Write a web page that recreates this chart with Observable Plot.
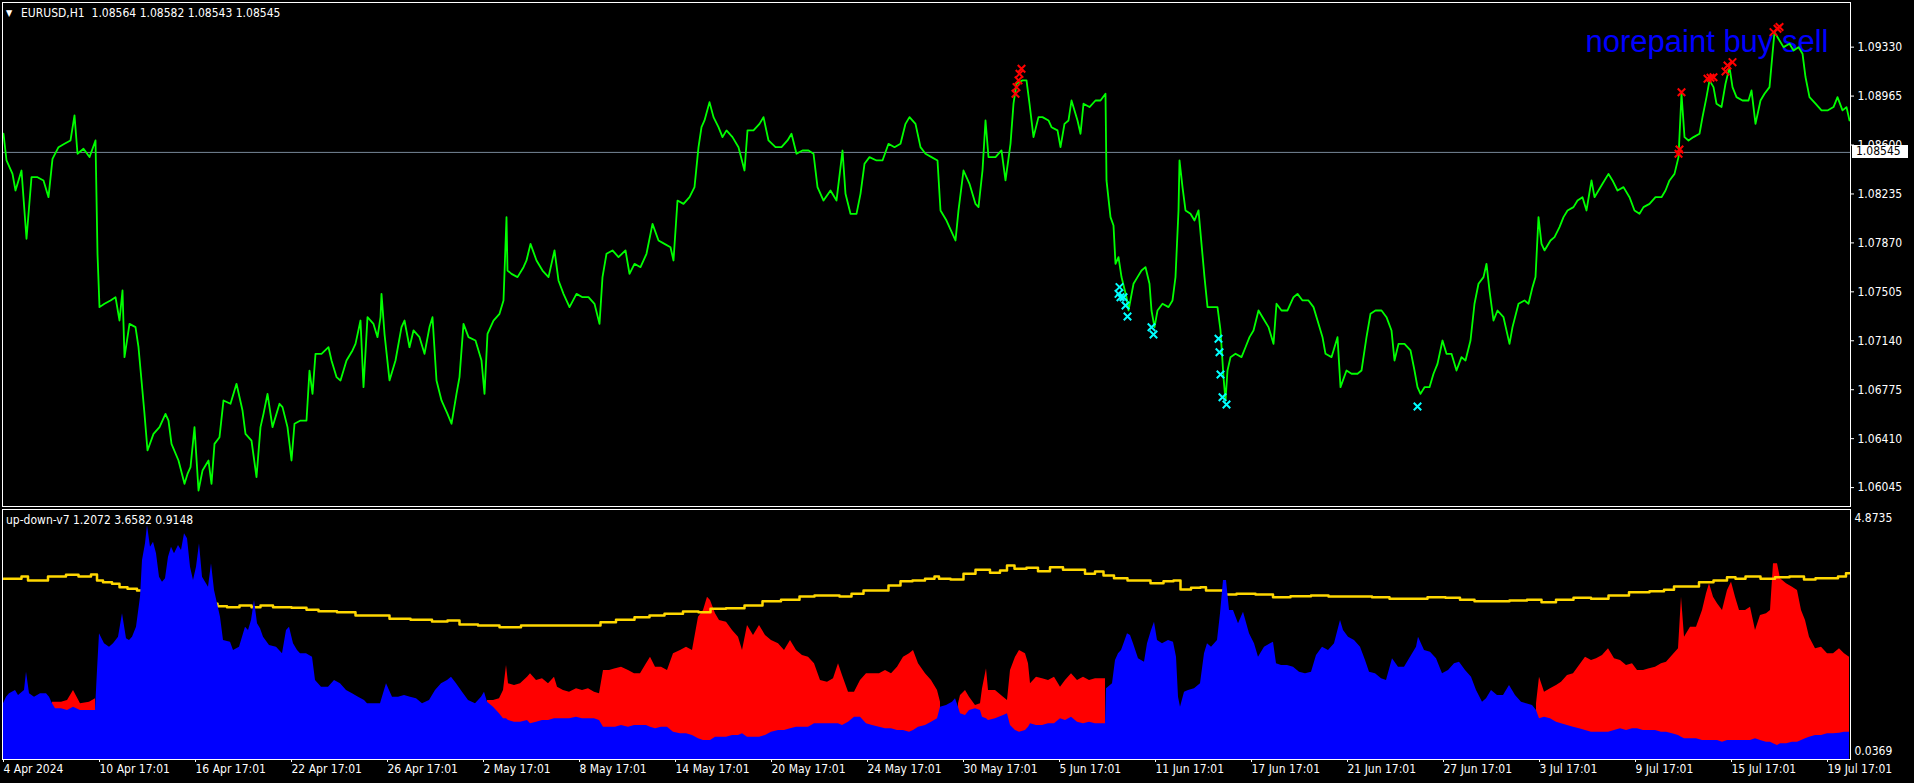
<!DOCTYPE html>
<html><head><meta charset="utf-8">
<script src="https://cdn.jsdelivr.net/npm/d3@7"></script>
<script src="https://cdn.jsdelivr.net/npm/@observablehq/plot@0.6"></script>
<style>
html,body{margin:0;padding:0;background:#000;}
#wrap{position:relative;width:1914px;height:783px;background:#000;overflow:hidden;}
#wrap svg{display:block;}
.lbl{position:absolute;color:#fff;font-family:"DejaVu Sans Condensed","DejaVu Sans",sans-serif;font-size:12px;white-space:pre;line-height:14px;}
#tag{position:absolute;background:#fff;color:#000;font-family:"DejaVu Sans Condensed","DejaVu Sans",sans-serif;font-size:12px;line-height:13px;height:13px;width:56px;padding-left:4px;box-sizing:border-box;}
</style></head><body><div id="wrap"></div>
<script>
// ---------- data ----------
const symbolTitle = "EURUSD,H1  1.08564 1.08582 1.08543 1.08545";
const indicatorTitle = "up-down-v7 1.2072 3.6582 0.9148";
const overlayText = "norepaint buy sell";
const lastPrice = 1.08545;

const priceTicks = [1.06045,1.06410,1.06775,1.07140,1.07505,1.07870,1.08235,1.08600,1.08965,1.09330];
const indTicks = [4.8735, 0.0369];

const tickHours = [0,96,192,288,384,480,576,672,768,864,960,1056,1152,1248,1344,1440,1536,1632,1728,1824];
const tickLabels = ["4 Apr 2024","10 Apr 17:01","16 Apr 17:01","22 Apr 17:01","26 Apr 17:01","2 May 17:01","8 May 17:01","14 May 17:01","20 May 17:01","24 May 17:01","30 May 17:01","5 Jun 17:01","11 Jun 17:01","17 Jun 17:01","21 Jun 17:01","27 Jun 17:01","3 Jul 17:01","9 Jul 17:01","15 Jul 17:01","19 Jul 17:01"];

const priceBar = [0,3,9,12,18,23,28,34,40,45,
 49,55,61,67,71,74,80,86,92,94,
 96,101,107,112,116,119,121,126,132,135,
 138,141,144,150,156,162,165,168,175,181,
 184,187,191,195,199,205,208,211,216,220,
 227,233,239,242,248,253,257,260,264,269,
 276,279,284,288,291,297,303,306,309,312,
 318,325,328,333,337,343,349,352,357,360,
 364,370,374,377,378,381,386,392,398,401,
 406,410,416,421,426,429,433,438,444,448,
 453,456,460,465,472,478,481,484,490,496,
 500,503,504,508,514,520,523,527,533,539,
 545,551,555,560,566,573,579,585,591,596,
 599,603,609,615,622,626,631,637,643,649,
 655,661,667,670,674,680,686,691,695,698,
 701,706,710,715,719,723,729,735,741,744,
 750,756,760,765,772,778,784,788,793,799,
 805,810,814,820,827,833,839,842,847,853,
 857,861,866,873,879,885,891,897,902,906,
 912,917,922,928,934,937,
 943,949,952,955,960,966,972,975,979,982,
 985,992,998,1002,1007,1010,1013,1019,1023,1026,
 1030,1035,1039,1045,1048,1054,1057,1061,1065,1068,
 1074,1077,1080,1086,1092,1097,1102,1103,1107,1110,
 1112,1115,1118,1123,1125,1130,1134,1138,1142,1146,
 1148,1151,1154,1159,1165,1169,1172,1175,1176,1179,
 1182,1187,1191,1195,1198,1201,1204,1208,1214,1217,
 1220,1222,1224,1227,1232,1238,1242,1246,1250,1255,
 1261,1265,1270,1273,1278,1284,1290,1294,1299,1305,
 1310,1315,1319,1322,1328,1334,1337,1343,1348,1354,
 1358,1363,1367,1372,1378,1383,1388,1391,1395,1401,
 1407,1411,1414,1417,1421,1426,1430,1434,1439,1443,
 1448,1453,1458,1462,1467,1471,1475,1480,1483,1486,
 1490,1494,1500,1506,1509,1515,1521,1525,1529,1532,
 1535,1538,1541,1547,1551,1556,1560,1564,1570,1574,
 1579,1583,1588,1591,1595,1599,1605,1609,1614,1620,
 1626,1631,1636,1640,1646,1652,1658,1662,1666,1671,
 1675,1678,1681,1685,1690,1696,1699,1703,1706,1710,
 1713,1718,1722,1726,1729,1733,1739,1745,1748,1752,
 1757,1761,1766,1769,1771,1776,1780,1786,1790,1795,
 1799,1802,1806,1812,1818,1824,1830,1834,1839,1843,
 1846];
const priceClose = [1.08684,1.08485,1.08385,1.08261,1.08410,1.07901,1.08360,1.08360,1.08336,1.08211,
 1.08497,1.08584,1.08609,1.08634,1.08821,1.08535,1.08572,1.08510,1.08634,1.07789,
 1.07391,1.07416,1.07441,1.07465,1.07291,1.07515,1.07018,1.07266,1.07242,1.07092,
 1.06844,1.06595,1.06322,1.06446,1.06496,1.06595,1.06545,1.06371,1.06247,1.06073,
 1.06147,1.06197,1.06496,1.06023,1.06172,1.06247,1.06073,1.06371,1.06421,1.06695,
 1.06670,1.06819,1.06620,1.06446,1.06396,1.06123,1.06496,1.06595,1.06744,1.06496,
 1.06670,1.06645,1.06496,1.06247,1.06521,1.06545,1.06545,1.06918,1.06744,1.07043,
 1.07043,1.07092,1.06993,1.06869,1.06844,1.06993,1.07068,1.07117,1.07291,1.06794,
 1.07316,1.07266,1.07167,1.07316,1.07490,1.07192,1.06844,1.06993,1.07242,1.07291,
 1.07092,1.07217,1.07167,1.07043,1.07242,1.07316,1.06844,1.06695,1.06595,1.06521,
 1.06744,1.06869,1.07266,1.07167,1.07142,1.06993,1.06744,1.07192,1.07291,1.07341,
 1.07441,1.08062,1.07664,1.07639,1.07615,1.07689,1.07739,1.07863,1.07739,1.07664,
 1.07615,1.07814,1.07590,1.07490,1.07391,1.07490,1.07465,1.07465,1.07416,1.07266,
 1.07615,1.07789,1.07814,1.07764,1.07814,1.07639,1.07714,1.07689,1.07789,1.08012,
 1.07888,1.07863,1.07838,1.07739,1.08186,1.08161,1.08211,1.08286,1.08584,1.08734,
 1.08783,1.08920,1.08808,1.08734,1.08659,1.08709,1.08659,1.08584,1.08410,1.08709,
 1.08709,1.08758,1.08808,1.08634,1.08584,1.08584,1.08634,1.08684,1.08535,1.08559,
 1.08559,1.08535,1.08286,1.08186,1.08261,1.08186,1.08559,1.08236,1.08087,1.08087,
 1.08236,1.08460,1.08510,1.08485,1.08485,1.08609,1.08584,1.08609,1.08758,1.08808,
 1.08758,1.08584,1.08535,1.08510,1.08485,1.08112,
 1.08037,1.07938,1.07888,1.08112,1.08410,1.08311,1.08161,1.08137,1.08410,1.08783,
 1.08510,1.08510,1.08560,1.08336,1.08609,1.08908,1.09057,1.09082,1.09082,1.08908,
 1.08659,1.08808,1.08808,1.08783,1.08733,1.08709,1.08584,1.08758,1.08783,1.08932,
 1.08783,1.08684,1.08908,1.08883,1.08932,1.08932,1.08982,1.08336,1.08062,1.08000,
 1.07714,1.07764,1.07615,1.07465,1.07366,1.07565,1.07615,1.07664,1.07689,1.07565,
 1.07366,1.07242,1.07366,1.07416,1.07391,1.07441,1.07615,1.08112,1.08485,1.08286,
 1.08112,1.08087,1.08037,1.08112,1.07863,1.07615,1.07391,1.07391,1.07391,1.07217,
 1.06869,1.06695,1.06918,1.07018,1.07043,1.07018,1.07092,1.07167,1.07217,1.07366,
 1.07291,1.07242,1.07117,1.07416,1.07366,1.07366,1.07465,1.07490,1.07441,1.07441,
 1.07391,1.07267,1.07167,1.07043,1.07018,1.07167,1.06794,1.06918,1.06894,1.06894,
 1.06918,1.07167,1.07341,1.07366,1.07366,1.07316,1.07217,1.06993,1.07117,1.07117,
 1.07068,1.06918,1.06794,1.06744,1.06794,1.06794,1.06894,1.06968,1.07142,1.07043,
 1.07043,1.06918,1.07018,1.06993,1.07142,1.07416,1.07565,1.07615,1.07714,1.07515,
 1.07291,1.07366,1.07316,1.07117,1.07242,1.07416,1.07441,1.07416,1.07540,1.07615,
 1.08062,1.07863,1.07814,1.07888,1.07913,1.07988,1.08062,1.08112,1.08137,1.08186,
 1.08211,1.08112,1.08336,1.08211,1.08261,1.08311,1.08385,1.08336,1.08261,1.08286,
 1.08211,1.08112,1.08087,1.08137,1.08161,1.08211,1.08211,1.08261,1.08336,1.08385,
 1.08510,1.08982,1.08659,1.08634,1.08659,1.08684,1.08808,1.08957,1.09082,1.09032,
 1.08908,1.08883,1.09057,1.09181,1.09032,1.08957,1.08932,1.08932,1.09007,1.08758,
 1.08932,1.08982,1.09032,1.09281,1.09442,1.09380,1.09330,1.09355,1.09305,1.09330,
 1.09281,1.09107,1.08957,1.08908,1.08858,1.08858,1.08883,1.08957,1.08858,1.08883,
 1.08783];

const sellBar = [1012,1013,1015,1016,1018,1675,1676,1678,1704,1707,1710,1722,1724,1729,1770,1774,1776];
const sellPrice = [1.08982,1.09032,1.09082,1.09131,1.09169,1.08535,1.08567,1.08994,1.09094,1.09102,1.09106,1.09149,1.09193,1.09218,1.09442,1.09467,1.09480];
const buyBar = [1116,1115,1117,1120,1122,1124,1148,1150,1215,1216,1217,1219,1223,1414];
const buyPrice = [1.07540,1.07490,1.07465,1.07465,1.07403,1.07321,1.07241,1.07187,1.07155,1.07055,1.06888,1.06719,1.06665,1.06650];

const histBar = [0,3,6,12,15,21,23,26,31,37,
 43,46,49,52,58,64,70,77,86,92,
 94,96,101,106,110,115,119,123,126,129,
 133,137,139,142,144,147,150,153,156,159,
 162,165,168,171,175,178,181,184,187,190,
 193,196,199,205,208,211,214,217,220,227,
 230,236,242,245,248,251,254,257,260,266,
 273,279,283,286,290,294,297,303,309,312,
 318,325,331,337,343,349,355,361,364,370,
 377,383,389,395,401,407,413,419,426,432,
 438,444,448,453,459,465,472,478,481,484,
 490,496,500,503,505,511,517,524,527,533,
 539,545,551,554,560,566,573,579,585,591,
 596,600,606,612,618,625,631,637,643,647,
 652,658,664,670,677,683,689,695,700,704,
 707,712,716,723,729,735,739,744,750,756,
 762,768,775,781,787,793,799,805,811,817,
 824,830,835,839,845,851,857,863,869,876,
 882,888,894,900,906,910,915,922,928,934,
 937,943,949,952,955,957,962,966,972,977,
 979,983,985,992,1000,1004,1007,1012,1016,1022,
 1025,1027,1033,1039,1045,1051,1057,1062,1068,1074,
 1080,1086,1092,1097,1102,1103,1109,1112,1115,1118,
 1121,1124,1127,1130,1135,1141,1144,1148,1151,1154,
 1159,1165,1170,1173,1175,1177,1181,1185,1191,1197,
 1201,1204,1208,1214,1217,1220,1223,1226,1230,1235,
 1240,1246,1251,1255,1261,1267,1270,1273,1278,1284,
 1290,1296,1302,1308,1313,1319,1325,1331,1337,1340,
 1345,1351,1357,1362,1366,1372,1378,1383,1389,1395,
 1401,1407,1413,1415,1421,1427,1433,1439,1445,1451,
 1456,1462,1468,1473,1479,1483,1488,1494,1500,1506,
 1512,1518,1523,1529,1533,1536,1541,1547,1553,1558,
 1564,1570,1576,1582,1588,1593,1599,1605,1611,1617,
 1623,1629,1634,1640,1646,1652,1658,1663,1669,1675,
 1678,1681,1687,1693,1699,1703,1706,1710,1714,1719,
 1724,1728,1732,1736,1742,1747,1752,1757,1763,1767,
 1770,1774,1777,1783,1789,1794,1798,1802,1806,1812,
 1818,1824,1830,1836,1841,1846];
const histUp = [1.019,1.157,1.226,1.295,1.192,1.295,1.675,1.226,1.157,1.226,
 1.226,1.157,1.019,0.915,0.915,0.881,0.950,0.881,0.881,0.881,
 1.709,2.469,2.262,2.193,2.262,2.400,2.884,2.366,2.331,2.400,
 2.607,3.229,3.989,4.334,4.714,4.265,4.369,4.127,3.643,3.540,
 3.609,4.058,4.265,4.127,4.300,4.196,4.541,4.438,3.851,3.574,
 3.851,4.334,3.643,3.436,3.920,3.367,3.091,2.815,2.331,2.297,
 2.124,2.193,2.607,2.538,2.746,3.160,2.676,2.573,2.400,2.228,
 2.193,2.055,2.538,2.607,2.262,2.124,2.055,2.055,1.986,1.502,
 1.364,1.364,1.502,1.433,1.295,1.226,1.157,1.088,1.019,1.019,
 1.019,1.433,1.157,1.157,1.192,1.157,1.122,1.019,1.088,1.295,
 1.433,1.502,1.571,1.433,1.261,1.088,1.019,1.157,1.261,1.053,
 0.950,0.812,0.708,0.708,0.673,0.639,0.639,0.673,0.604,0.639,
 0.673,0.673,0.708,0.708,0.708,0.708,0.742,0.708,0.708,0.708,
 0.673,0.535,0.535,0.535,0.570,0.535,0.570,0.570,0.570,0.535,
 0.501,0.535,0.535,0.432,0.397,0.397,0.363,0.294,0.259,0.259,
 0.259,0.328,0.328,0.328,0.363,0.363,0.397,0.328,0.328,0.328,
 0.363,0.432,0.466,0.466,0.501,0.535,0.535,0.535,0.604,0.604,
 0.604,0.604,0.604,0.570,0.639,0.742,0.742,0.604,0.570,0.535,
 0.501,0.501,0.466,0.466,0.432,0.466,0.535,0.570,0.639,0.708,
 0.950,0.984,1.053,1.122,0.950,0.812,0.777,0.881,0.915,0.881,
 0.742,0.708,0.673,0.708,0.777,0.812,0.570,0.466,0.432,0.466,
 0.535,0.604,0.570,0.570,0.604,0.604,0.708,0.673,0.742,0.639,
 0.604,0.639,0.604,0.604,0.604,1.329,1.433,1.917,2.055,2.124,
 2.297,2.469,2.435,2.262,1.951,1.882,2.262,2.538,2.711,2.331,
 2.262,2.331,2.297,1.986,1.157,0.950,1.261,1.295,1.329,1.433,
 2.055,2.262,2.193,2.331,2.884,3.574,3.574,2.953,2.953,2.676,
 2.918,2.469,2.262,1.986,2.193,2.262,2.297,1.848,1.813,1.813,
 1.778,1.675,1.640,1.675,2.020,2.193,2.124,2.262,2.746,2.538,
 2.400,2.331,2.193,1.917,1.675,1.640,1.537,1.502,1.951,1.778,
 1.778,1.986,2.193,2.400,2.124,2.089,1.951,1.640,1.709,1.848,
 1.882,1.709,1.571,1.295,1.053,1.122,1.295,1.192,1.192,1.398,
 1.192,1.053,1.019,0.984,0.881,0.708,0.742,0.708,0.639,0.604,
 0.570,0.535,0.501,0.466,0.432,0.432,0.432,0.432,0.466,0.501,
 0.466,0.501,0.501,0.466,0.466,0.466,0.432,0.432,0.397,0.363,
 0.328,0.294,0.294,0.294,0.259,0.259,0.259,0.259,0.259,0.224,
 0.259,0.259,0.259,0.259,0.259,0.259,0.294,0.259,0.224,0.224,
 0.190,0.155,0.190,0.190,0.224,0.224,0.259,0.294,0.328,0.363,
 0.363,0.397,0.397,0.411,0.432,0.432];
const n = null;
const histDown = [n,n,n,n,n,n,n,n,n,n,
 n,n,1.053,1.053,1.053,1.088,1.295,1.019,1.053,1.122,
 n,n,n,n,n,n,n,n,n,n,
 n,n,n,n,n,n,n,n,n,n,
 n,n,n,n,n,n,n,n,n,n,
 n,n,n,n,n,n,n,n,n,n,
 n,n,n,n,n,n,n,n,n,n,
 n,n,n,n,n,n,n,n,n,n,
 n,n,n,n,n,n,n,n,n,n,
 n,n,n,n,n,n,n,n,n,n,
 n,n,n,n,n,n,n,n,n,1.088,
 1.088,1.122,1.295,1.813,1.433,1.398,1.433,1.571,1.640,1.502,
 1.537,1.433,1.571,1.364,1.295,1.261,1.329,1.295,1.329,1.261,
 1.226,1.709,1.709,1.744,1.778,1.709,1.640,1.640,1.848,1.986,
 1.778,1.778,1.709,2.055,2.124,2.193,2.124,2.815,2.953,3.229,
 3.160,2.884,2.746,2.711,2.538,2.400,2.124,2.642,2.435,2.642,
 2.435,2.331,2.262,2.124,2.331,2.124,2.020,1.986,1.848,1.502,
 1.468,1.537,1.848,1.606,1.261,1.261,1.502,1.640,1.640,1.640,
 1.709,1.640,1.778,1.986,2.055,2.124,1.848,1.640,1.502,1.295,
 1.053,n,n,n,1.019,1.192,1.295,1.157,0.984,1.019,
 1.329,1.744,1.295,1.295,1.157,1.088,1.709,1.986,2.124,2.055,
 1.848,1.433,1.571,1.537,1.502,1.571,1.364,1.502,1.640,1.502,
 1.571,1.502,1.537,1.537,1.537,n,n,n,n,n,
 n,n,n,n,n,n,n,n,n,n,
 n,n,n,n,n,1.019,n,n,n,n,
 n,n,n,n,n,n,n,n,n,n,
 n,n,n,n,n,n,n,n,n,n,
 n,n,n,n,n,n,n,n,n,n,
 n,n,n,n,n,n,n,n,n,n,
 n,n,n,n,n,n,n,n,n,n,
 n,n,n,n,n,n,n,n,n,n,
 n,n,n,n,1.019,1.571,1.261,1.329,1.398,1.468,
 1.606,1.640,1.813,1.986,1.917,1.951,2.020,2.159,1.951,1.917,
 1.813,1.848,1.709,1.709,1.744,1.778,1.848,1.882,2.020,2.159,
 3.229,2.400,2.607,2.607,2.953,3.298,3.505,3.229,3.091,2.953,
 3.367,3.540,3.229,2.953,2.953,3.022,2.538,2.849,2.884,2.953,
 3.920,3.920,3.609,3.505,3.436,3.367,2.953,2.746,2.400,2.159,
 2.193,2.055,2.055,2.159,2.055,1.986];

const sigBar = [0,15,21,28,43,46,58,67,83,92,
 95,104,113,119,129,138,181,211,217,230,
 242,254,260,279,297,309,321,346,358,377,
 395,419,438,450,462,487,505,530,548,573,
 591,603,622,640,652,670,689,701,713,732,
 750,768,787,805,817,830,842,854,866,879,
 891,903,915,928,934,937,957,963,981,992,
 1001,1006,1016,1030,1039,1054,1065,1077,1086,1097,
 1103,1118,1130,1141,1153,1167,1173,1181,1194,1200,
 1205,1217,1226,1240,1264,1275,1299,1316,1334,1357,
 1380,1392,1415,1433,1451,1462,1480,1497,1515,1532,
 1544,1561,1579,1596,1614,1637,1655,1666,1675,1690,
 1701,1719,1728,1736,1748,1766,1777,1795,1806,1818,
 1830,1839,1846];
const sigVal = [3.609,3.609,3.657,3.574,3.574,3.657,3.657,3.692,3.657,3.699,
 3.574,3.540,3.505,3.436,3.402,3.367,3.229,3.091,3.042,3.022,
 3.056,3.022,3.056,3.022,3.008,2.967,2.939,2.918,2.849,2.849,
 2.780,2.759,2.725,2.746,2.663,2.642,2.607,2.642,2.642,2.642,
 2.642,2.711,2.759,2.815,2.849,2.884,2.932,2.918,2.987,3.001,
 3.056,3.146,3.174,3.243,3.263,3.263,3.243,3.298,3.367,3.367,
 3.471,3.560,3.574,3.609,3.657,3.609,3.595,3.712,3.795,3.733,
 3.782,3.885,3.816,3.837,3.768,3.851,3.795,3.795,3.712,3.761,
 3.678,3.623,3.574,3.574,3.519,3.560,3.574,3.388,3.422,3.436,
 3.367,3.367,3.284,3.298,3.284,3.229,3.250,3.263,3.243,3.243,
 3.229,3.194,3.194,3.229,3.215,3.174,3.146,3.146,3.160,3.174,
 3.125,3.174,3.215,3.194,3.263,3.333,3.353,3.381,3.450,3.450,
 3.540,3.574,3.643,3.609,3.657,3.609,3.643,3.657,3.595,3.623,
 3.623,3.657,3.726];

// ---------- tables ----------
const price = priceBar.map((b, i) => ({bar: b, close: priceClose[i]}));
const sells = sellBar.map((b, i) => ({bar: b, price: sellPrice[i]}));
const buys = buyBar.map((b, i) => ({bar: b, price: buyPrice[i]}));
const hist = histBar.map((b, i) => ({bar: b, up: histUp[i], down: histDown[i]}));
const sig = sigBar.map((b, i) => ({bar: b, v: sigVal[i]}));

const FONT = '"DejaVu Sans Condensed","DejaVu Sans",sans-serif';
const xDomain = [-1, 1847];
const yMainDomain = [1.05904, 1.09663];
const yIndDomain = [-0.135, 5.045];
const base = yIndDomain[0];

const main = Plot.plot({
  width: 1914, height: 507,
  marginLeft: 2, marginRight: 64, marginTop: 2, marginBottom: 1,
  style: {background: "#000", color: "#fff", fontFamily: FONT, fontSize: "12px"},
  x: {domain: xDomain, axis: null},
  y: {domain: yMainDomain, axis: null},
  marks: [
    Plot.text([overlayText], {text: d => d, frameAnchor: "top-right", textAnchor: "end", lineAnchor: "middle",
      dx: -22, dy: 40, fill: "#0000FF", fontSize: 31, fontFamily: '"Liberation Sans", Arial, sans-serif'}),
    Plot.ruleY([lastPrice], {stroke: "#778899", strokeWidth: 1}),
    Plot.line(price, {x: "bar", y: "close", stroke: "#00FF00", strokeWidth: 1.8}),
    Plot.dot(sells, {x: "bar", y: "price", symbol: "times", r: 3.5, stroke: "#FF0000", strokeWidth: 2}),
    Plot.dot(buys, {x: "bar", y: "price", symbol: "times", r: 3.5, stroke: "#00FFFF", strokeWidth: 2}),
    Plot.axisY({anchor: "right", label: null, ticks: priceTicks, tickFormat: d => d.toFixed(5), tickSize: 3, tickPadding: 4, stroke: "#fff", fill: "#fff"}),
    Plot.frame({stroke: "#fff"})
  ]
});

const lower = Plot.plot({
  width: 1914, height: 276,
  marginLeft: 2, marginRight: 64, marginTop: 2, marginBottom: 24,
  style: {background: "#000", color: "#fff", fontFamily: FONT, fontSize: "12px"},
  x: {domain: xDomain, axis: null},
  y: {domain: yIndDomain, axis: null},
  marks: [
    Plot.areaY(hist, {x: "bar", y1: base, y2: "down", fill: "#FF0000"}),
    Plot.line(sig, {x: "bar", y: "v", stroke: "#FFD700", strokeWidth: 2.5, curve: "step"}),
    Plot.areaY(hist, {x: "bar", y1: base, y2: "up", fill: "#0000FF"}),
    Plot.axisY({anchor: "right", label: null, ticks: indTicks, tickFormat: d => d.toFixed(4), tickSize: 0, tickPadding: 4, fill: "#fff"}),
    Plot.axisX({anchor: "bottom", label: null, ticks: tickHours, tickFormat: d => tickLabels[tickHours.indexOf(d)],
      tickSize: 3, tickPadding: 2, textAnchor: "start", stroke: "#fff", fill: "#fff"}),
    Plot.frame({stroke: "#fff"})
  ]
});

const wrap = document.getElementById("wrap");
wrap.appendChild(main);
wrap.appendChild(lower);

function addLabel(text, left, top, cls, extra) {
  const d = document.createElement("div");
  d.className = cls;
  d.textContent = text;
  d.style.left = left + "px";
  d.style.top = top + "px";
  if (extra) Object.assign(d.style, extra);
  wrap.appendChild(d);
  return d;
}
addLabel("\u25BC", 6, 6, "lbl", {fontSize: "9px"});
addLabel(symbolTitle, 21, 6, "lbl");
addLabel(indicatorTitle, 6, 513, "lbl");
const tagY = main.scale("y").apply(lastPrice);
const tag = addLabel(lastPrice.toFixed(5), 1852, Math.round(tagY - 6.5), "", {});
tag.id = "tag";
</script>
</body></html>
